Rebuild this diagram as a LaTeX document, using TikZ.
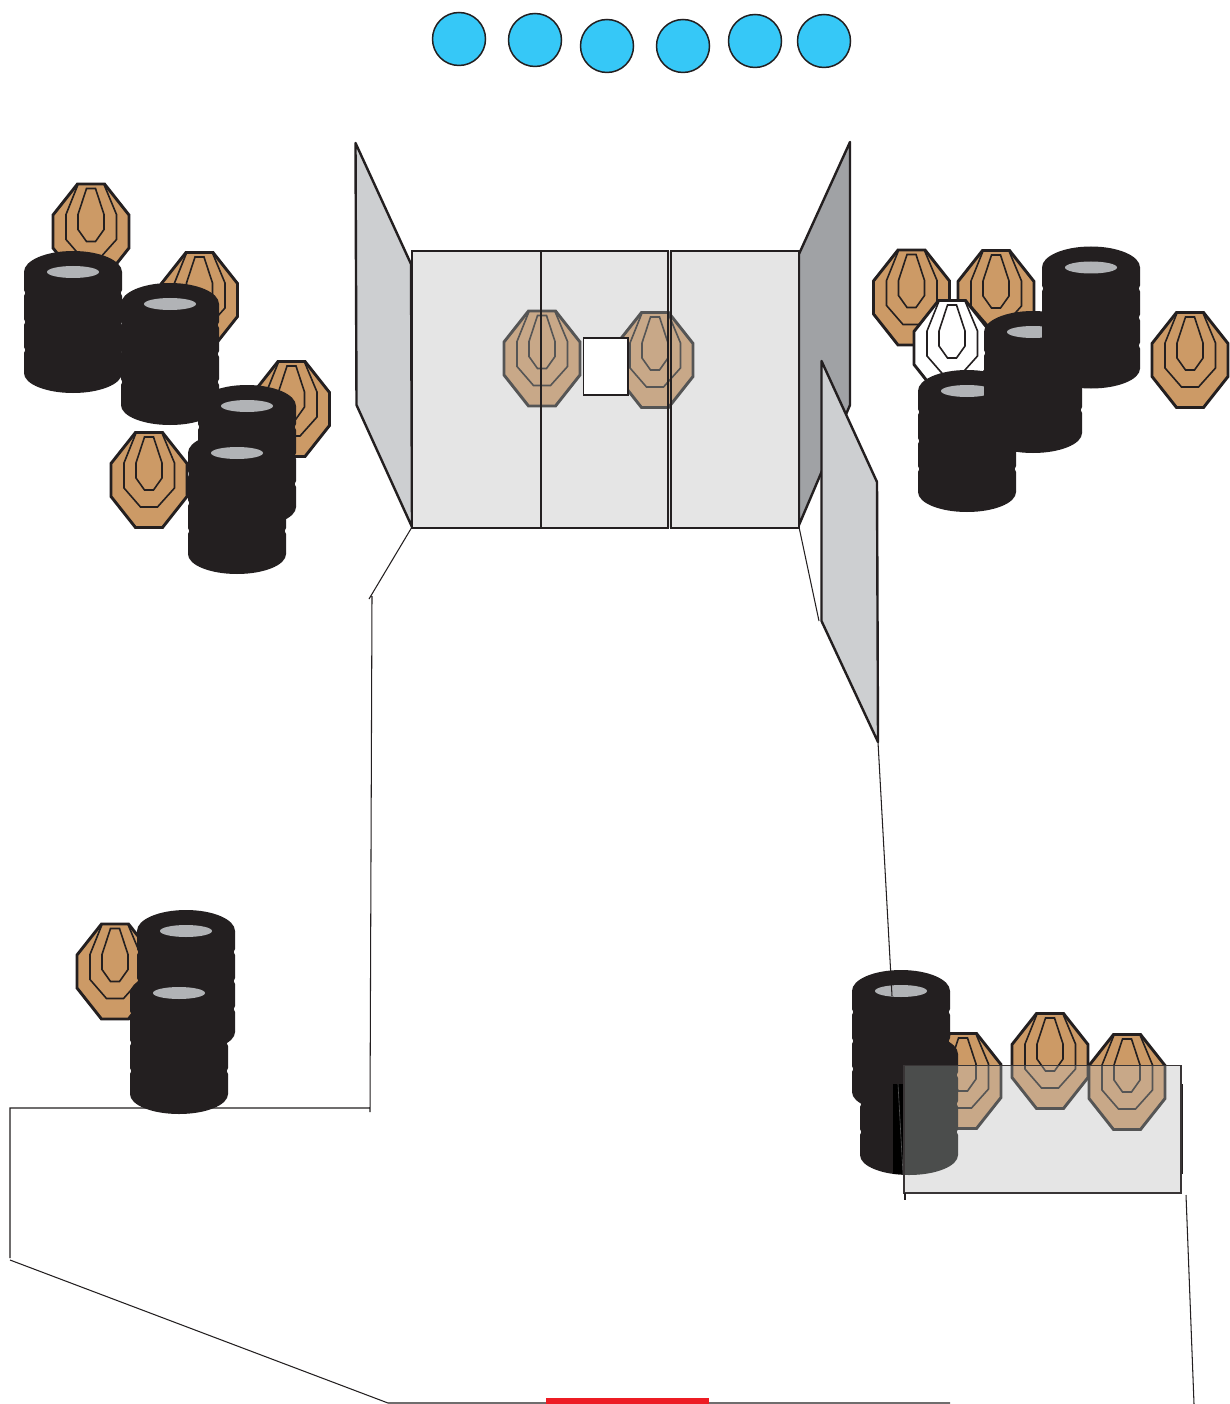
\documentclass[tikz,border=0pt]{standalone}
\definecolor{tan}{HTML}{CC9A66}
\definecolor{tanmute}{HTML}{C8A888}
\definecolor{ink}{HTML}{231F20}
\definecolor{mute}{HTML}{555555}
\definecolor{tiremute}{HTML}{4B4D4C}
\definecolor{holec}{HTML}{B1B3B6}
\definecolor{wingl}{HTML}{CDCFD1}
\definecolor{wingd}{HTML}{A0A2A5}
\definecolor{panelc}{HTML}{E5E5E5}
\definecolor{bluec}{HTML}{36C8F7}
\definecolor{redc}{HTML}{ED1C24}
\tikzset{
  wing/.style={draw=ink,line width=2.4pt,line join=round},
  panel line/.style={draw=ink,line width=1.9pt},
  thin line/.style={draw=ink,line width=1.05pt},
  disc/.style={draw=ink,line width=1.5pt,fill=bluec},
}
% #1 x, #2 y, #3 fill, #4 stroke
\newcommand{\tgt}[4]{%
  \begin{scope}[shift={(#1,#2)}]
    \draw[fill=#3,draw=#4,line width=2.9pt,line join=miter]
      (-13.5,-47.5)--(13.5,-47.5)--(38,-16.5)--(38,16.5)--(13.5,47.5)--(-13.5,47.5)--(-38,16.5)--(-38,-16.5)--cycle;
    \draw[draw=#4,line width=1.6pt,line join=miter]
      (-13,-47)--(-25,-17)--(-25,8)--(-8.5,27)--(8.5,27)--(25.5,8)--(25.5,-17)--(13,-47);
    \draw[draw=#4,line width=1.6pt,line join=miter]
      (-4.5,-43)--(4.5,-43)--(13,-17)--(13,-2)--(4.5,10)--(-4.5,10)--(-13,-2)--(-13,-17)--cycle;
  \end{scope}}
% #1 x, #2 y of the hole, #3 colour
\newcommand{\stkbody}[3]{%
  \begin{scope}[shift={(#1,#2)}]
    \fill[#3] (0,0) ellipse [x radius=49pt,y radius=21pt];
    \fill[#3] (0,101) ellipse [x radius=49pt,y radius=20pt];
    \fill[#3] (-49,0)--(49,0)--(49,18)--(47.7,21)--(49,24)--(49,47)--(47.7,50)--(49,53)--(49,75)--(47.7,78)--(49,81)--(49,101)
      --(-49,101)--(-49,81)--(-47.7,78)--(-49,75)--(-49,53)--(-47.7,50)--(-49,47)--(-49,24)--(-47.7,21)--(-49,18)--cycle;
  \end{scope}}
\newcommand{\stk}[2]{%
  \stkbody{#1}{#2}{ink}
  \fill[holec] (#1,#2) ellipse [x radius=26pt,y radius=6pt];}
\begin{document}
\begin{tikzpicture}[x=1pt,y=-1pt]
\useasboundingbox (0,0) rectangle (1229,1404);
\fill[white] (0,0) rectangle (1229,1404);
% discs
\foreach \cx/\cy in {459/39,535/40,607/46,683/46,755/41,824/41}
  \draw[disc] (\cx,\cy) circle [radius=26.5pt];
% range outline
\coordinate (a1) at (412,527); \coordinate (a2) at (369,599);
\coordinate (a3) at (372,596); \coordinate (a4) at (370,1112);
\coordinate (a5) at (370,1108); \coordinate (a6) at (10,1108);
\coordinate (a7) at (10,1258); \coordinate (a8) at (10,1260);
\coordinate (a9) at (388,1403); \coordinate (a10) at (950,1403);
\coordinate (b1) at (799,527); \coordinate (b2) at (819,621);
\coordinate (b3) at (878,742); \coordinate (b4) at (892,996);
\coordinate (c1) at (905,1193); \coordinate (c2) at (905,1200);
\coordinate (c3) at (1186,1195); \coordinate (c4) at (1194,1404);
\draw[thin line] (a1)--(a2) (a3)--(a4) (a5)--(a6)--(a7) (a8)--(a9)--(a10);
\draw[thin line] (b1)--(b2);
\draw[thin line] (c3)--(c4);
\fill[redc] (546,1398) rectangle (709,1404);
% left group
\tgt{91}{231.5}{tan}{ink}
\tgt{199.5}{300}{tan}{ink}
\tgt{291.5}{409}{tan}{ink}
\tgt{149}{480}{tan}{ink}
\stk{170}{304}
\stk{73}{272}
\stk{247}{406}
\stk{237}{453}
% central walls
\draw[wing,fill=wingl] (355.5,143)--(411,264)--(412,527)--(356.5,405)--cycle;
\draw[wing,fill=wingd] (850,142)--(799,254)--(799,525)--(850,405)--cycle;
\fill[panelc] (412,251) rectangle (799,528);
\tgt{655}{360}{tanmute}{mute}
\tgt{542}{358.5}{tanmute}{mute}
\draw[panel line] (412,251) rectangle (668,528);
\draw[panel line] (671,251) rectangle (799,528);
\draw[draw=ink,line width=2.6pt] (540.8,251)--(540.8,528);
\draw[panel line,fill=white] (583.5,338) rectangle (628,395);
\draw[wing,fill=wingl] (821.5,361)--(877,482)--(878,742)--(821.5,621)--cycle;
% right group
\tgt{911.5}{297.5}{tan}{ink}
\tgt{996}{298}{tan}{ink}
\tgt{952}{348}{white}{ink}
\tgt{1190}{360}{tan}{ink}
\stk{967}{391}
\stk{1033}{332}
\stk{1091}{267.5}
% lower left group
\tgt{115}{971.5}{tan}{ink}
\stk{186}{931}
\stk{179}{993}
% lower right group
\tgt{963}{1081}{tan}{ink}
\tgt{1050}{1061}{tan}{ink}
\tgt{1127}{1082}{tan}{ink}
\stkbody{909}{1054}{ink}
\stk{901}{991}
\draw[thin line] (b3)--(b4);
\fill[black] (893,1084) rectangle (905,1174);
\draw[draw=ink,line width=0.9pt] (1182.6,1084)--(1182.6,1174);
\draw[draw=mute,line width=0.6pt] (898,1084)--(903,1174);
\fill[panelc] (904,1065.5) rectangle (1181,1193);
\begin{scope}
  \clip (904,1065.5) rectangle (1181,1193);
  \tgt{963}{1081}{tanmute}{mute}
  \tgt{1050}{1061}{tanmute}{mute}
  \tgt{1127}{1082}{tanmute}{mute}
  \stkbody{909}{1054}{tiremute}
  \stkbody{901}{991}{tiremute}
\end{scope}
\draw[draw=ink!90!white,line width=1.7pt] (904,1065.5) rectangle (1181,1193);
\draw[thin line] (c1)--(c2);
\end{tikzpicture}
\end{document}
